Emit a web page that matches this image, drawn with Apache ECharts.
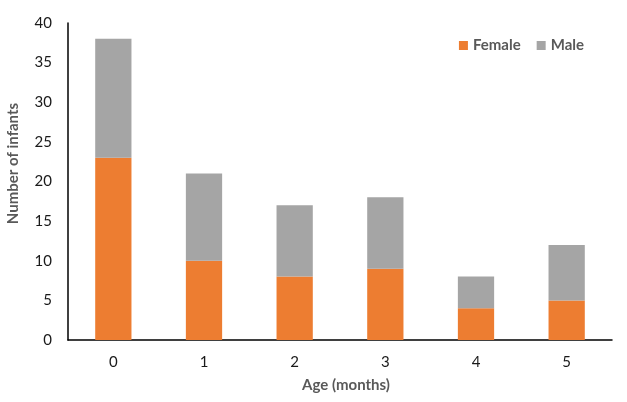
<!DOCTYPE html>
<html><head><meta charset="utf-8">
<script src="https://cdn.jsdelivr.net/npm/echarts@6/dist/echarts.min.js"></script>
<style>html,body{margin:0;padding:0;background:#fff}#c{width:627px;height:402px}</style>
</head><body><div id="c"></div>
<script>
const categories = ['0','1','2','3','4','5'];
const female = [23, 10, 8, 9, 4, 5];
const male = [15, 11, 9, 9, 4, 7];
const yTicks = [0, 5, 10, 15, 20, 25, 30, 35, 40];

const chart = echarts.init(document.getElementById('c'));
const font = 'Lato, "Open Sans", sans-serif';
chart.setOption({
  animation: false,
  textStyle: {fontFamily: font},
  legend: {
    top: 33, right: 38, itemWidth: 9, itemHeight: 9, itemGap: 16,
    textStyle: {fontSize: 15, fontWeight: 'bold', color: '#595959', fontFamily: font},
    data: [{name: 'Female', icon: 'rect'}, {name: 'Male', icon: 'rect'}]
  },
  grid: {left: 68, right: 15, top: 23, bottom: 62, containLabel: false, outerBoundsMode: 'none'},
  xAxis: {
    type: 'category', data: categories,
    axisLine: {lineStyle: {color: '#000', width: 1.5}},
    axisTick: {show: false},
    axisLabel: {fontSize: 15, color: '#1a1a1a', margin: 15},
    name: 'Age (months)', nameLocation: 'middle', nameGap: 38,
    nameTextStyle: {fontSize: 15, fontWeight: 'bold', color: '#595959', padding: [0, 0, 0, 12]}
  },
  yAxis: {
    type: 'value', min: yTicks[0], max: yTicks[yTicks.length-1], interval: 5,
    axisLine: {show: true, lineStyle: {color: '#000', width: 1.5}},
    axisTick: {show: false},
    splitLine: {show: false},
    axisLabel: {fontSize: 15, color: '#1a1a1a', margin: 16},
    name: 'Number of infants', nameLocation: 'middle', nameGap: 47,
    nameTextStyle: {fontSize: 15, fontWeight: 'bold', color: '#595959', padding: [0, 0, 0, 36]}
  },
  series: [
    {name: 'Female', type: 'bar', stack: 's', data: female, barWidth: '40%', itemStyle: {color: '#ED7D31'}},
    {name: 'Male', type: 'bar', stack: 's', data: male, barWidth: '40%', itemStyle: {color: '#A5A5A5'}}
  ]
});
</script></body></html>
